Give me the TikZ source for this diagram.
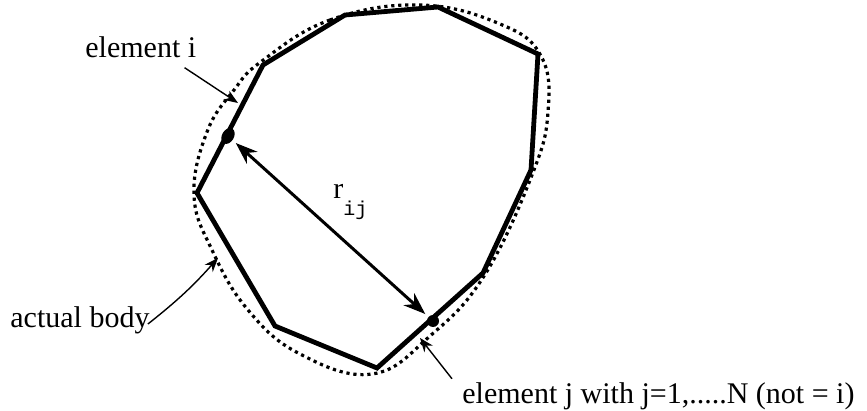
\documentclass[tikz,border=0pt]{standalone}
\usepackage{fontspec}
\setmainfont{Liberation Serif}
\setmonofont{Liberation Mono}
\usetikzlibrary{positioning,arrows.meta,shapes.geometric,calc}
\tikzset{
  panel/.style={line width=2.4pt,line join=miter},
  bodyline/.style={line width=1.6pt,dash pattern=on 1.6pt off 1.9pt},
  elemdot/.style={ellipse,fill=black,inner sep=0pt,minimum width=6pt,minimum height=6pt},
  lbl/.style={inner sep=0pt,font=\fontsize{15}{18}\selectfont,anchor=base west},
  pointer/.style={-{Stealth[length=7pt,width=5.4pt]},line width=0.7pt},
  dist/.style={{Stealth[length=11pt,width=8pt]}-{Stealth[length=11pt,width=8pt]},line width=1.5pt},
}

\begin{document}
\begin{tikzpicture}[x=0.5pt, y=-0.5pt]
\useasboundingbox (0,0) rectangle (867,411);

% ── panels of the body
\coordinate (v1) at (263,65);
\coordinate (v2) at (345,15);
\coordinate (v3) at (438,7);
\coordinate (v4) at (538,54);
\coordinate (v5) at (531,170);
\coordinate (v6) at (483,273);
\coordinate (v7) at (377,368);
\coordinate (v8) at (275,326);
\coordinate (v9) at (197,193);
\draw[panel] (v1) -- (v2) -- (v3) -- (v4) -- (v5) -- (v6) -- (v7) -- (v8) -- (v9) -- cycle;

% ── actual body (dotted contour)
\draw[bodyline] plot[smooth cycle, tension=0.7] coordinates {
  (262,61) (330,20) (420,5) (500,24) (541,56) (548,112) (532,175)
  (484,276) (430,336) (372,374) (300,354) (248,310) (212,250) (194,195)
  (207,132) (234,90)};

% ── elements i and j
\node[elemdot,minimum width=8.5pt,rotate=60] (doti) at (228,136) {};
\node[elemdot] (dotj) at (433,321) {};

% ── distance between them
\draw[dist,shorten <=2pt,shorten >=2pt] (doti) -- (dotj);
\node[inner sep=0pt,font=\fontsize{15}{18}\selectfont,anchor=base west] (rij) at (333,199)
  {r\raisebox{-8.5pt}{\fontsize{10}{10}\ttfamily ij}};

% ── labels and pointers
\node[lbl] (elemi) at (85,58) {element i};
\coordinate (elemitip) at (238,103);
\draw[pointer] ($(elemi.south east)+(-12,9)$) -- (elemitip);

\node[lbl] (body) at (10,328) {actual body};
\coordinate (bodytip) at (218,258);
\draw[pointer] ($(body.base east)+(-2,-4)$) to[bend right=5] (bodytip);

\node[lbl] (elemj) at (462,403) {element j with j=1,.....N (not = i)};
\coordinate (elemjtip) at (420,338);
\draw[pointer] ($(elemj.north west)+(-10,-3)$) -- (elemjtip);

\end{tikzpicture}
\end{document}
